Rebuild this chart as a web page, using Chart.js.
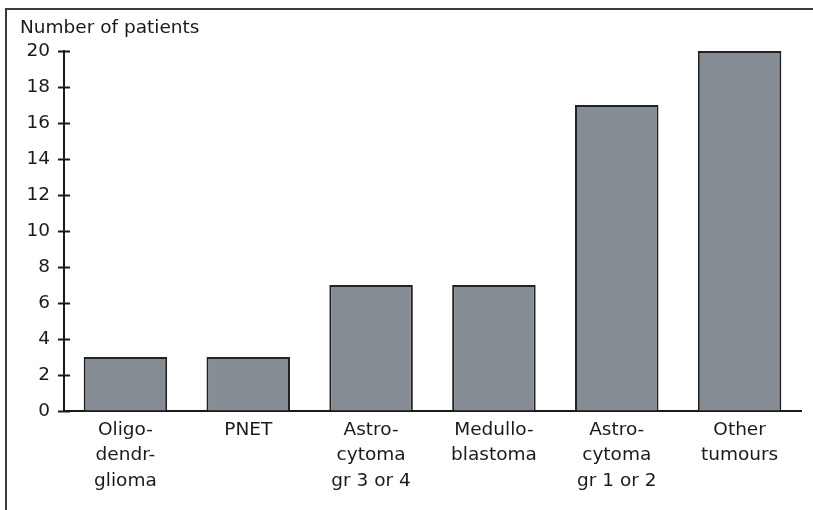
<!DOCTYPE html>
<html>
<head>
<meta charset="utf-8">
<script src="https://cdn.jsdelivr.net/npm/chart.js@4"></script>
<style>
  html, body { margin: 0; padding: 0; background: #fff; }
  #wrap { position: relative; width: 813px; height: 510px; overflow: hidden; }
  #frame { position: absolute; left: 5px; top: 8px; width: 900px; height: 600px;
           border-left: 2px solid #3a3a3a; border-top: 2px solid #3a3a3a; }
  canvas { position: absolute; left: 0; top: 0; }
</style>
</head>
<body>
<div id="wrap">
  <div id="frame"></div>
  <canvas id="chart" width="813" height="510"></canvas>
</div>
<script>
// tumour categories (multi-line labels as printed)
const categories = [
  ['Oligo-', 'dendr-', 'glioma'],
  'PNET',
  ['Astro-', 'cytoma', 'gr 3 or 4'],
  ['Medullo-', 'blastoma'],
  ['Astro-', 'cytoma', 'gr 1 or 2'],
  ['Other', 'tumours']
];
const patients = [3, 3, 7, 7, 17, 20];
const yTicks = [0, 2, 4, 6, 8, 10, 12, 14, 16, 18, 20];
const yTitle = 'Number of patients';

const FONT = 'DejaVu Sans';

// y tick marks that cross the axis line on both sides
const crossTicks = {
  id: 'crossTicks',
  afterDraw(chart) {
    const ctx = chart.ctx;
    const y = chart.scales.y;
    const x0 = chart.chartArea.left;
    ctx.save();
    ctx.strokeStyle = '#1a1a1a';
    ctx.lineWidth = 2;
    yTicks.forEach(v => {
      const py = Math.round(y.getPixelForValue(v)) + 0.5;
      ctx.beginPath();
      ctx.moveTo(x0 - 6, py);
      ctx.lineTo(x0 + 6, py);
      ctx.stroke();
    });
    ctx.restore();
  }
};

// axis title printed horizontally above the axis
const axisTitle = {
  id: 'axisTitle',
  afterDraw(chart) {
    const ctx = chart.ctx;
    ctx.save();
    ctx.fillStyle = '#1a1a1a';
    ctx.font = '18.5px "' + FONT + '"';
    ctx.textAlign = 'left';
    ctx.textBaseline = 'middle';
    ctx.fillText(yTitle, 20, 28);
    ctx.restore();
  }
};

new Chart(document.getElementById('chart'), {
  type: 'bar',
  data: {
    labels: categories,
    datasets: [{
      data: patients,
      backgroundColor: '#868c94',
      borderColor: '#222222',
      borderWidth: 2,
      categoryPercentage: 1.0,
      barPercentage: 0.68
    }]
  },
  options: {
    responsive: false,
    animation: false,
    events: [],
    layout: { padding: { left: 0, right: 12, top: 51, bottom: 0 } },
    plugins: {
      legend: { display: false },
      tooltip: { enabled: false }
    },
    scales: {
      x: {
        grid: { display: false, drawTicks: false },
        border: { display: true, color: '#1a1a1a', width: 2 },
        ticks: {
          color: '#1a1a1a',
          font: { family: FONT, size: 18.5, lineHeight: 1.38 },
          padding: 6,
          maxRotation: 0,
          autoSkip: false
        },
        afterFit(scale) { scale.height = 99; }
      },
      y: {
        min: 0,
        max: 20,
        afterBuildTicks(scale) { scale.ticks = yTicks.map(v => ({ value: v })); },
        grid: { drawOnChartArea: false, drawTicks: false },
        border: { display: true, color: '#1a1a1a', width: 2 },
        ticks: {
          color: '#1a1a1a',
          font: { family: FONT, size: 18.5 },
          padding: 14
        },
        afterFit(scale) { scale.width = 64; }
      }
    }
  },
  plugins: [crossTicks, axisTitle]
});
</script>
</body>
</html>
